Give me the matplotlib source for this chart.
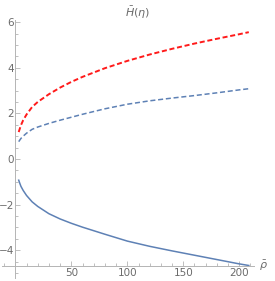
import numpy as np
import matplotlib
matplotlib.use("Agg")
import matplotlib.pyplot as plt

# values
rho = [3, 4, 5, 7, 10, 15, 20, 30, 40, 50, 60, 80, 100, 120, 140, 160, 180, 200, 208.5]
h_red = [1.18, 1.33, 1.48, 1.7, 1.95, 2.28, 2.5, 2.84, 3.13, 3.38, 3.6, 3.98, 4.3, 4.58, 4.83, 5.06, 5.27, 5.47, 5.56]
h_blue_dash = [0.76, 0.83, 0.9, 1.0, 1.13, 1.3, 1.4, 1.56, 1.7, 1.83, 1.96, 2.2, 2.4, 2.55, 2.67, 2.78, 2.9, 3.03, 3.08]
h_blue = [-0.93, -1.07, -1.2, -1.38, -1.6, -1.88, -2.08, -2.4, -2.63, -2.82, -2.99, -3.3, -3.6, -3.83, -4.03, -4.22, -4.41, -4.6, -4.67]

xticks = [50, 100, 150, 200]
yticks = [-4, -2, 0, 2, 4, 6]

axis_col = '#b4b4b4'
text_col = '#6b6b6b'
blue = '#5e81b5'

fig = plt.figure(figsize=(2.75, 2.81), dpi=100)
ax = fig.add_axes([0, 0, 1, 1])
ax.set_xlim(-13.7, 231.9)
ax.set_ylim(-5.35, 6.97)
ax.patch.set_alpha(0)

ax.plot(rho, h_red, color='#ff1a1a', lw=1.4, linestyle=(0, (2.6, 1.4)))
ax.plot(rho, h_blue_dash, color=blue, lw=1.1, linestyle=(0, (3.3, 1.8)))
ax.plot(rho, h_blue, color=blue, lw=1.1)

y_axis_at = -4.68
for s in ['top', 'right']:
    ax.spines[s].set_visible(False)
ax.spines['left'].set_position(('data', 0))
ax.spines['bottom'].set_position(('data', y_axis_at))
ax.spines['left'].set_bounds(-5.22, 6.1)
ax.spines['bottom'].set_bounds(-11.9, 213)
for s in ['left', 'bottom']:
    ax.spines[s].set_color(axis_col)
    ax.spines[s].set_linewidth(0.7)

ax.set_xticks(xticks)
ax.set_xticks(np.arange(-10, 211, 10), minor=True)
ax.set_yticks(yticks)
ax.set_yticklabels([str(t).replace('-', '\u2212') for t in yticks])
ax.set_yticks(np.arange(-5, 6.01, 0.5), minor=True)
ax.tick_params(which='both', direction='in', color=axis_col, width=0.6,
               labelsize=7.5, labelcolor=text_col)
ax.tick_params(which='major', length=3.5, pad=2)
ax.tick_params(axis='y', which='major', pad=1)
ax.tick_params(which='minor', length=2)

fig.text(0.5, 0.955, r'$\bar{H}(\eta)$', ha='center', va='center',
         fontsize=8, color=text_col)
ax.text(218, y_axis_at, r'$\bar{\rho}$', ha='left', va='center',
        fontsize=8, color=text_col)

fig.savefig('out.png', dpi=100)
